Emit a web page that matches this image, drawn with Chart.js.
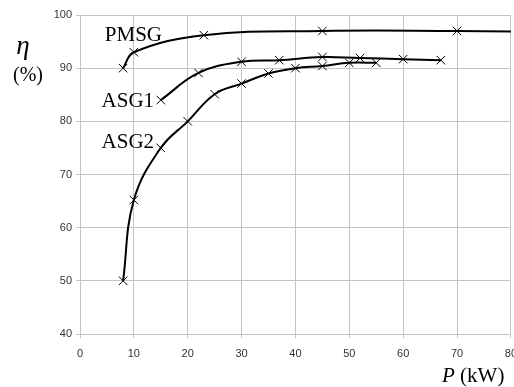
<!DOCTYPE html>
<html>
<head>
<meta charset="utf-8">
<script src="https://cdn.jsdelivr.net/npm/chart.js@4.4.1/dist/chart.umd.min.js"></script>
<style>
html, body { margin: 0; padding: 0; background: #fff; overflow: hidden; }
#wrap { width: 514px; height: 387px; overflow: hidden; }
</style>
</head>
<body>
<div id="wrap"><canvas id="eff-chart" width="526" height="387"></canvas></div>
<script>
// tick values
var xTicks = [0, 10, 20, 30, 40, 50, 60, 70, 80];
var yTicks = [40, 50, 60, 70, 80, 90, 100];

// series names
var seriesNames = ['PMSG', 'ASG1', 'ASG2'];

// PMSG (last point is the curve end, no marker)
var pmsgP   = [8, 10, 23, 45, 70, 80];
var pmsgEta = [90, 93, 96.2, 97, 97, 96.9];

// ASG1
var asg1P   = [15, 22, 30, 37, 45, 52, 60, 67];
var asg1Eta = [84, 89.1, 91.2, 91.5, 92.1, 91.9, 91.7, 91.5];

// ASG2
var asg2P   = [8, 10, 15, 20, 25, 30, 35, 40, 45, 50, 55];
var asg2Eta = [50, 65.2, 75, 80, 85.1, 87.1, 89, 90, 90.4, 91, 91];

function pts(xs, ys) {
    return xs.map((v, i) => ({ x: v, y: ys[i] }))
}

var gridGray = '#c4c4c4';
var tickFont = { family: "'Liberation Sans', Arial, sans-serif", size: 11 };

function curve(name, xs, ys, radius) {
    return {
        label: name,
        data: pts(xs, ys),
        borderColor: '#000',
        borderWidth: 2,
        tension: 0.4,
        fill: false,
        pointStyle: 'crossRot',
        pointRadius: radius,
        pointBorderColor: '#000',
        pointBorderWidth: 1,
        pointBackgroundColor: 'rgba(0,0,0,0)'
    }
}

// text drawn on the chart: curve names, axis titles
var annotations = {
    id: 'annotations',
    afterDraw(chart) {
        var ctx = chart.ctx
        var sx = chart.scales.x, sy = chart.scales.y
        ctx.save()
        ctx.fillStyle = '#000'
        ctx.textBaseline = 'alphabetic'
        ctx.textAlign = 'left'
        ctx.font = "21px 'Liberation Serif', serif"
        var where = { PMSG: [4.6, 95.2], ASG1: [4.0, 82.7], ASG2: [4.0, 74.9] }
        seriesNames.forEach(n => {
            ctx.fillText(n, sx.getPixelForValue(where[n][0]), sy.getPixelForValue(where[n][1]))
        })

        // y title
        ctx.textAlign = 'center'
        ctx.font = "italic 27px 'Liberation Serif', serif"
        ctx.fillText('\u03B7', 23, 54)
        ctx.font = "20px 'Liberation Serif', serif"
        ctx.fillText('(%)', 28, 81)

        // x title
        ctx.textAlign = 'left'
        ctx.font = "italic 21px 'Liberation Serif', serif"
        ctx.fillText('P', 442, 382)
        var w = ctx.measureText('P').width
        ctx.font = "21px 'Liberation Serif', serif"
        ctx.fillText(' (kW)', 442 + w, 382)
        ctx.restore()
    }
};

var ctx = document.getElementById('eff-chart').getContext('2d');
var effchart = new Chart(ctx, {
    type: 'line',
    data: {
        datasets: [
            curve(seriesNames[0], pmsgP, pmsgEta, [6, 6, 6, 6, 6, 0]),
            curve(seriesNames[1], asg1P, asg1Eta, 6),
            curve(seriesNames[2], asg2P, asg2Eta, 6)
        ]
    },
    options: {
        responsive: false,
        animation: false,
        devicePixelRatio: 1,
        layout: { padding: { top: 15, right: 0, left: 0, bottom: 0 } },
        plugins: {
            legend: { display: false },
            tooltip: { enabled: false }
        },
        scales: {
            x: {
                type: 'linear',
                min: 0,
                max: 80,
                afterBuildTicks: (scale) => { scale.ticks = xTicks.map(v => ({ value: v })) },
                afterFit: (scale) => { scale.height = 53 },
                grid: { color: gridGray, tickLength: 4, drawTicks: true },
                border: { color: gridGray },
                ticks: { font: tickFont, color: '#333', padding: 9, maxRotation: 0, autoSkip: false }
            },
            y: {
                type: 'linear',
                min: 40,
                max: 100,
                afterBuildTicks: (scale) => { scale.ticks = yTicks.map(v => ({ value: v })) },
                afterFit: (scale) => { scale.width = 80 },
                grid: { color: gridGray, tickLength: 4, drawTicks: true },
                border: { color: gridGray },
                ticks: { font: tickFont, color: '#333', padding: 4 }
            }
        }
    },
    plugins: [annotations]
});
</script>
</body>
</html>
